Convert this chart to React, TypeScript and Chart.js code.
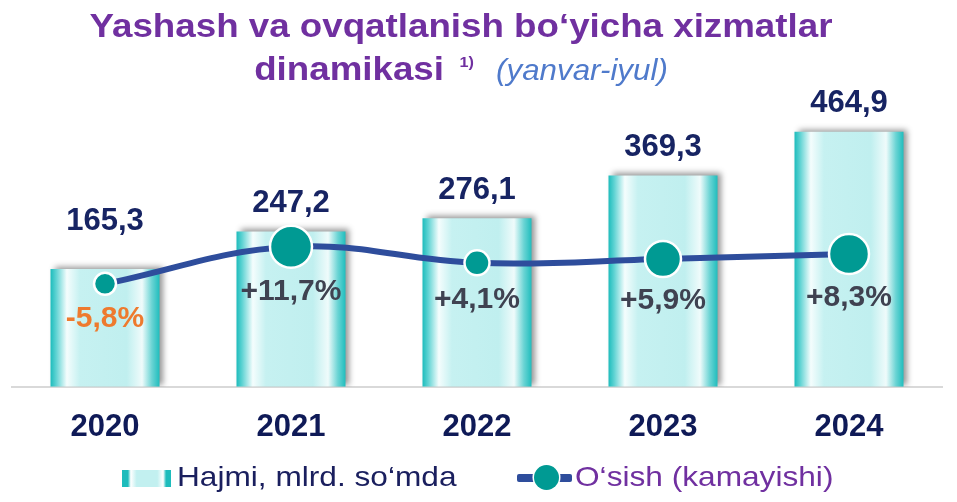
import React, { useEffect, useRef } from 'react';
import { Chart, registerables } from 'chart.js';

Chart.register(...registerables);

// ---- data ----
const YEARS: string[] = ['2020', '2021', '2022', '2023', '2024'];
const VOLUME: number[] = [165.3, 247.2, 276.1, 369.3, 464.9];
const GROWTH: number[] = [-5.8, 11.7, 4.1, 5.9, 8.3];

const VOLUME_LABEL = 'Hajmi, mlrd. so‘mda';
const GROWTH_LABEL = 'O‘sish (kamayishi)';

// ---- styles ----
const FONT = '"Liberation Sans", Arial, Helvetica, sans-serif';
const BAR_PCT = 0.586;
const Y_MIN = -92;
const Y_MAX = 534;
const Y2_MIN = -54.5;
const Y2_MAX = 81.1;
const POINT_RADIUS = [11, 21, 12.5, 18, 20];
const VALUE_LIFT = [47, 28, 28, 28, 28];

const fmtVal = (v: number) => v.toFixed(1).replace('.', ',');
const fmtPct = (v: number) => (v > 0 ? '+' : '') + v.toFixed(1).replace('.', ',') + '%';

const GRAD_STOPS: [number, string][] = [
  [0, '#1DBCBC'],
  [0.05, '#5CD2D2'],
  [0.15, '#F4FDFD'],
  [0.27, '#C6F1F1'],
  [0.7, '#C0EFEF'],
  [0.84, '#EFFBFB'],
  [0.93, '#6AD4D4'],
  [1, '#20BDBD'],
];

export default function App() {
  const ref = useRef<HTMLCanvasElement>(null);

  useEffect(() => {
    const canvas = ref.current;
    if (!canvas) return;

    const barFill = (c: any) => {
      const chart = c.chart;
      const xs = chart.scales && chart.scales.x;
      if (!xs || c.type !== 'data' || !isFinite(xs.width) || xs.width <= 0) return '#C2F0F0';
      const cx = xs.getPixelForValue(c.dataIndex);
      const half = ((xs.width / YEARS.length) * BAR_PCT) / 2;
      if (!isFinite(cx) || !isFinite(half)) return '#C2F0F0';
      const g = chart.ctx.createLinearGradient(cx - half, 0, cx + half, 0);
      GRAD_STOPS.forEach(([o, col]) => g.addColorStop(o, col));
      return g;
    };

    const shadowPlugin = {
      id: 'barShadow',
      beforeDatasetDraw(chart: any, args: any) {
        if (args.index !== 0) return;
        const ctx = chart.ctx;
        ctx.save();
        ctx.shadowColor = 'rgba(0,0,0,0.42)';
        ctx.shadowBlur = 6;
        ctx.shadowOffsetX = 4;
        ctx.shadowOffsetY = -2;
      },
      afterDatasetDraw(chart: any, args: any) {
        if (args.index !== 0) return;
        chart.ctx.restore();
      },
    };

    const labelsPlugin = {
      id: 'valueLabels',
      afterDatasetsDraw(chart: any) {
        const ctx = chart.ctx;
        const bars = chart.getDatasetMeta(0).data;
        const pts = chart.getDatasetMeta(1).data;
        ctx.save();
        ctx.textAlign = 'center';
        ctx.textBaseline = 'middle';
        ctx.font = `bold 31px ${FONT}`;
        ctx.fillStyle = '#172463';
        bars.forEach((b: any, i: number) => {
          ctx.fillText(fmtVal(VOLUME[i]), b.x, b.y - VALUE_LIFT[i]);
        });
        ctx.font = `bold 30px ${FONT}`;
        pts.forEach((p: any, i: number) => {
          ctx.fillStyle = GROWTH[i] < 0 ? '#EE7A2E' : '#3F4251';
          ctx.fillText(fmtPct(GROWTH[i]), p.x, p.y + POINT_RADIUS[i] + 24);
        });
        ctx.restore();
      },
    };

    const chart = new Chart(canvas, {
      data: {
        labels: YEARS,
        datasets: [
          {
            type: 'bar',
            label: VOLUME_LABEL,
            data: VOLUME,
            yAxisID: 'y',
            base: Y_MIN,
            backgroundColor: barFill,
            borderWidth: 0,
            barPercentage: BAR_PCT,
            categoryPercentage: 1,
            order: 2,
          } as any,
          {
            type: 'line',
            label: GROWTH_LABEL,
            data: GROWTH,
            yAxisID: 'y2',
            borderColor: '#2E4D9C',
            borderWidth: 6,
            tension: 0.4,
            pointRadius: POINT_RADIUS,
            pointHoverRadius: POINT_RADIUS,
            pointBackgroundColor: '#009A93',
            pointBorderColor: '#FFFFFF',
            pointBorderWidth: 2.5,
            order: 1,
            clip: false,
          } as any,
        ],
      },
      options: {
        responsive: false,
        animation: false,
        events: [],
        layout: { autoPadding: false, padding: { left: 12, right: 15, top: 100, bottom: 34 } },
        plugins: {
          legend: { display: false },
          title: { display: false },
          tooltip: { enabled: false },
        },
        scales: {
          x: {
            offset: true,
            grid: { display: false, drawTicks: false, tickLength: 0 },
            border: { display: true, color: '#D9D9D9', width: 2 },
            ticks: {
              color: '#0F1A57',
              font: { family: FONT, size: 31, weight: 'bold' },
              padding: 22,
              maxRotation: 0,
              autoSkip: false,
            },
          },
          y: { display: false, min: Y_MIN, max: Y_MAX },
          y2: { display: false, min: Y2_MIN, max: Y2_MAX },
        },
      } as any,
      plugins: [shadowPlugin, labelsPlugin],
    });

    return () => chart.destroy();
  }, []);

  const gradCss =
    'linear-gradient(to right, #1DBCBC 0%, #1DBCBC 12%, #FFFFFF 18%, #C2F0F0 30%, #C2F0F0 72%, #FFFFFF 84%, #1DBCBC 90%, #1DBCBC 100%)';

  return (
    <div
      style={{
        position: 'fixed',
        left: 0,
        top: 0,
        width: 957,
        height: 502,
        background: '#FFFFFF',
        overflow: 'hidden',
        fontFamily: FONT,
      }}
    >
      <canvas ref={ref} width={957} height={502} style={{ position: 'absolute', left: 0, top: 0 }} />

      {/* title */}
      <div
        style={{
          position: 'absolute',
          left: 0,
          top: 4,
          width: 922,
          textAlign: 'center',
          whiteSpace: 'nowrap',
          color: '#7030A0',
          fontWeight: 'bold',
          fontSize: 34,
          lineHeight: '43px',
          transform: 'scaleX(1.08)',
          transformOrigin: '461px 50%',
        }}
      >
        <div>Yashash va ovqatlanish bo‘yicha xizmatlar</div>
        <div>
          dinamikasi{' '}
          <span style={{ fontSize: 15, position: 'relative', top: -13, marginLeft: 5 }}>1)</span>{' '}
          <span style={{ fontSize: 29, fontWeight: 'normal', fontStyle: 'italic', color: '#4F7ACB', marginLeft: 11 }}>
            (yanvar-iyul)
          </span>
        </div>
      </div>

      {/* legend */}
      <div style={{ position: 'absolute', left: 122, top: 470, width: 49, height: 17, background: gradCss }} />
      <div
        style={{
          position: 'absolute',
          left: 177,
          top: 460,
          fontSize: 28,
          lineHeight: '34px',
          color: '#1A1F5E',
          whiteSpace: 'nowrap',
          transform: 'scaleX(1.13)',
          transformOrigin: '0 50%',
        }}
      >
        {VOLUME_LABEL}
      </div>

      <div style={{ position: 'absolute', left: 517, top: 474, width: 55, height: 8, background: '#2E4D9C', borderRadius: 2 }} />
      <div
        style={{
          position: 'absolute',
          left: 534,
          top: 465,
          width: 25,
          height: 25,
          borderRadius: '50%',
          background: '#009A93',
          boxShadow: '0 0 0 1.5px #FFFFFF',
        }}
      />
      <div
        style={{
          position: 'absolute',
          left: 575,
          top: 460,
          fontSize: 28,
          lineHeight: '34px',
          color: '#7030A0',
          whiteSpace: 'nowrap',
          transform: 'scaleX(1.13)',
          transformOrigin: '0 50%',
        }}
      >
        {GROWTH_LABEL}
      </div>
    </div>
  );
}
